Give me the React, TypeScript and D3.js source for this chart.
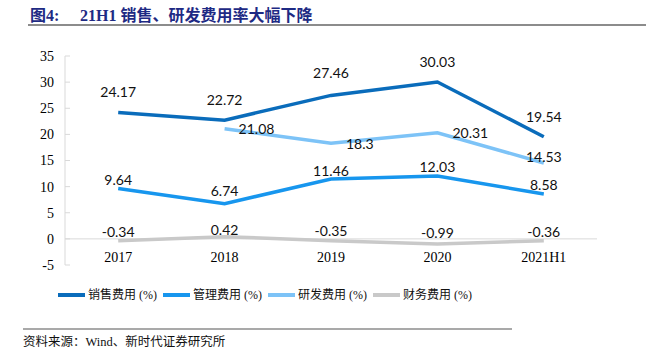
import React from "react";
import * as d3 from "d3";

const categories = ["2017", "2018", "2019", "2020", "2021H1"];
const salesRate = [24.17, 22.72, 27.46, 30.03, 19.54];
const adminRate = [9.64, 6.74, 11.46, 12.03, 8.58];
const rdRate: (number | null)[] = [null, 21.08, 18.3, 20.31, 14.53];
const financeRate = [-0.34, 0.42, -0.35, -0.99, -0.36];
const seriesNames = ["销售费用 (%)", "管理费用 (%)", "研发费用 (%)", "财务费用 (%)"];
const yTicks = [-5, 0, 5, 10, 15, 20, 25, 30, 35];

const W = 646;
const H = 355;
const plot = { left: 65, right: 597, top: 56, bottom: 265 };

type Series = {
  name: string;
  values: (number | null)[];
  color: string;
  labelDx: number[];
  labelDy: number[];
  anchor: string[];
};

export default function App() {
  const x = d3
    .scaleBand<string>()
    .domain(categories)
    .range([plot.left, plot.right]);
  const y = d3.scaleLinear().domain([-5, 35]).range([plot.bottom, plot.top]);
  const cx = (c: string) => (x(c) as number) + x.bandwidth() / 2;

  const series: Series[] = [
    {
      name: seriesNames[0],
      values: salesRate,
      color: "#0A6CBB",
      labelDx: [0, 0, 0, 0, 0],
      labelDy: [-20, -20, -22, -20, -20],
      anchor: ["middle", "middle", "middle", "middle", "middle"],
    },
    {
      name: seriesNames[1],
      values: adminRate,
      color: "#1796EE",
      labelDx: [0, 0, 0, 0, 0],
      labelDy: [-8, -13, -8, -9, -9],
      anchor: ["middle", "middle", "middle", "middle", "middle"],
    },
    {
      name: seriesNames[2],
      values: rdRate,
      color: "#7DC3F7",
      labelDx: [0, 14, 15, 15, 0],
      labelDy: [0, 0, 1, 0, -6],
      anchor: ["middle", "start", "start", "start", "middle"],
    },
    {
      name: seriesNames[3],
      values: financeRate,
      color: "#C9C9C9",
      labelDx: [0, 0, 0, 0, 0],
      labelDy: [-9, -7, -10, -11, -9],
      anchor: ["middle", "middle", "middle", "middle", "middle"],
    },
  ];

  const line = d3
    .line<{ c: string; v: number | null }>()
    .defined((d) => d.v !== null)
    .x((d) => cx(d.c))
    .y((d) => y(d.v as number));

  const legendX = [58, 163, 268, 373];
  const legendY = 295;

  return (
    <svg
      width={W}
      height={H}
      style={{ position: "absolute", left: 0, top: 0, background: "#fff" }}
    >
      {/* Title */}
      <text
        x={30}
        y={21}
        fontFamily="'Liberation Serif', 'Noto Sans CJK SC', serif"
        fontSize={16}
        fontWeight="bold"
        fill="#1E2A84"
      >
        图4:
      </text>
      <text
        x={80}
        y={21}
        fontFamily="'Liberation Serif', 'Noto Sans CJK SC', serif"
        fontSize={16}
        fontWeight="bold"
        fill="#1E2A84"
      >
        21H1 销售、研发费用率大幅下降
      </text>
      <line x1={28} x2={646} y1={25} y2={25} stroke="#8C8C8C" strokeWidth={2} />

      {/* Y axis */}
      <line
        x1={plot.left}
        x2={plot.left}
        y1={y(35)}
        y2={y(-5)}
        stroke="#D9D9D9"
        strokeWidth={1}
      />
      {yTicks.map((t) => (
        <g key={t}>
          <line
            x1={plot.left}
            x2={plot.left + 5}
            y1={y(t)}
            y2={y(t)}
            stroke="#D9D9D9"
          />
          <text
            x={54}
            y={y(t)}
            dy="0.35em"
            textAnchor="end"
            fontFamily="'Liberation Serif', serif"
            fontSize={14}
            fill="#000"
          >
            {t}
          </text>
        </g>
      ))}
      {/* zero line */}
      <line
        x1={plot.left}
        x2={plot.right}
        y1={y(0)}
        y2={y(0)}
        stroke="#D9D9D9"
        strokeWidth={1}
      />
      {/* X labels */}
      {categories.map((c) => (
        <text
          key={c}
          x={cx(c)}
          y={262}
          textAnchor="middle"
          fontFamily="'Liberation Serif', serif"
          fontSize={14}
          fill="#000"
        >
          {c}
        </text>
      ))}

      {/* Lines */}
      {series
        .slice()
        .reverse()
        .map((s) => (
          <path
            key={s.name}
            d={line(categories.map((c, i) => ({ c, v: s.values[i] }))) || ""}
            fill="none"
            stroke={s.color}
            strokeWidth={3.5}
            strokeLinejoin="miter"
          />
        ))}

      {/* Labels */}
      {series.map((s) =>
        categories.map((c, i) => {
          const v = s.values[i];
          if (v === null) return null;
          return (
            <text
              key={s.name + c}
              x={cx(c) + s.labelDx[i]}
              y={y(v) + s.labelDy[i]}
              dy="0.35em"
              textAnchor={s.anchor[i]}
              fontFamily="Lato, 'Open Sans', sans-serif"
              fontSize={14}
              fill="#111"
            >
              {String(v)}
            </text>
          );
        })
      )}

      {/* Legend */}
      {series.map((s, i) => (
        <g key={s.name}>
          <line
            x1={legendX[i]}
            x2={legendX[i] + 27}
            y1={legendY}
            y2={legendY}
            stroke={s.color}
            strokeWidth={4}
          />
          <text
            x={legendX[i] + 30}
            y={legendY}
            dy="0.35em"
            fontFamily="'Liberation Serif', 'Noto Sans CJK SC', serif"
            fontSize={12}
            fill="#111"
          >
            {s.name}
          </text>
        </g>
      ))}

      {/* Source */}
      <line x1={23} x2={512} y1={329} y2={329} stroke="#8C8C8C" strokeWidth={1.5} />
      <text
        x={23}
        y={342}
        dy="0.35em"
        fontFamily="'Liberation Serif', 'Noto Sans CJK SC', serif"
        fontSize={12.5}
        fill="#111"
      >
        资料来源：Wind、新时代证券研究所
      </text>
    </svg>
  );
}
